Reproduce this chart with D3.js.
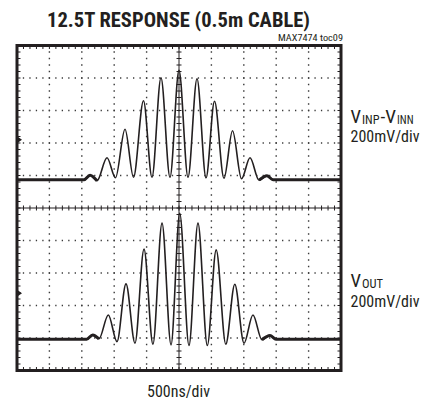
<!DOCTYPE html>
<html>
<head>
<meta charset="utf-8">
<script src="https://cdn.jsdelivr.net/npm/d3@7"></script>
<style>
  html, body { margin: 0; padding: 0; background: #fff; }
  svg { display: block; }
  text { font-family: "Liberation Sans Narrow", "Roboto Condensed", "Arial Narrow", "Liberation Sans", Arial, sans-serif; fill: #231f20; }
</style>
</head>
<body>
<svg id="chart" width="435" height="404"></svg>
<script>
// ---------------- DATA ----------------
const titleText = "12.5T RESPONSE (0.5m CABLE)";
const tocText = "MAX7474 toc09";
const timeLabel = "500ns/div";
const voltsPerDiv = 200;      // mV/div
const timePerDiv = 500;       // ns/div
const xDivisions = 10;
const yDivisions = 10;

// channel ground-reference positions (divisions above screen centre)
const ch1Offset = 2.1;
const ch2Offset = -2.62;

// Channel 1: VINP - VINN (time ns, mV relative to channel reference)
const ch1Time = [0, 1034, 1127, 1235, 1389, 1520, 1667, 1798, 1952, 2083, 2222, 2361, 2500, 2639, 2778, 2917, 3048, 3194, 3326, 3465, 3596, 3735, 3858, 3951, 5000];
const ch1Volt = [-246, -246, -218, -252, -111, -234, 65, -231, 240, -231, 382, -231, 428, -231, 375, -234, 237, -237, 55, -240, -111, -249, -222, -246, -246];

// Channel 2: VOUT
const ch2Time = [0, 1075, 1168, 1265, 1409, 1543, 1682, 1821, 1960, 2098, 2238, 2377, 2511, 2654, 2793, 2937, 3074, 3222, 3361, 3503, 3641, 3780, 3904, 3997, 5000];
const ch2Volt = [-284, -284, -257, -281, -134, -298, 57, -308, 271, -314, 431, -318, 492, -322, 431, -322, 266, -314, 55, -308, -134, -287, -261, -284, -284];

// ---------------- DRAW ----------------
const svg = d3.select("#chart");
const ink = "#231f20";

const x = d3.scaleLinear().domain([0, xDivisions * timePerDiv]).range([17, 341]);
const yDiv = d3.scaleLinear().domain([-yDivisions / 2, yDivisions / 2]).range([370.5, 45.5]);

const xMajor = d3.range(0, xDivisions * timePerDiv + 1, timePerDiv);
const xMinor = d3.range(0, xDivisions * timePerDiv + 1, timePerDiv / 5);
const yMajor = d3.range(-yDivisions / 2, yDivisions / 2 + 0.001, 1);
const yMinor = d3.range(-yDivisions / 2, yDivisions / 2 + 0.001, 0.2);

const g = svg.append("g");
const [X0, X1] = x.range();
const [Y1, Y0] = yDiv.range();
const xc = x(xDivisions * timePerDiv / 2);
const yc = yDiv(0);

// dotted grid
const dotPitch = (X1 - X0) / (xDivisions * 5);
g.selectAll("line.vgrid").data(xMajor.filter((d, i) => i > 0 && i < xDivisions && i !== xDivisions / 2))
  .enter().append("line")
  .attr("x1", d => x(d)).attr("x2", d => x(d)).attr("y1", Y0).attr("y2", Y1)
  .attr("stroke", "#3a3a3a").attr("stroke-width", 1.4)
  .attr("stroke-dasharray", `1.3 ${(Y1 - Y0) / (yDivisions * 5) - 1.3}`)
  .attr("stroke-dashoffset", 0.65);
g.selectAll("line.hgrid").data(yMajor.filter((d, i) => i > 0 && i < yDivisions && i !== yDivisions / 2))
  .enter().append("line")
  .attr("x1", X0).attr("x2", X1).attr("y1", d => yDiv(d)).attr("y2", d => yDiv(d))
  .attr("stroke", "#3a3a3a").attr("stroke-width", 1.4)
  .attr("stroke-dasharray", `1.3 ${dotPitch - 1.3}`)
  .attr("stroke-dashoffset", 0.65);

// centre crosshair
g.append("line").attr("x1", xc).attr("x2", xc).attr("y1", Y0).attr("y2", Y1).attr("stroke", ink).attr("stroke-width", 1);
g.append("line").attr("x1", X0).attr("x2", X1).attr("y1", yc).attr("y2", yc).attr("stroke", ink).attr("stroke-width", 1);
g.selectAll("line.cxt").data(xMinor).enter().append("line")
  .attr("x1", d => x(d)).attr("x2", d => x(d)).attr("y1", yc - 2.5).attr("y2", yc + 2.5)
  .attr("stroke", ink).attr("stroke-width", 1);
g.selectAll("line.cyt").data(yMinor).enter().append("line")
  .attr("x1", xc - 2.5).attr("x2", xc + 2.5).attr("y1", d => yDiv(d)).attr("y2", d => yDiv(d))
  .attr("stroke", ink).attr("stroke-width", 1);

// border ticks
const tl = 3.5;
g.selectAll("line.tt").data(xMinor).enter().append("line")
  .attr("x1", d => x(d)).attr("x2", d => x(d)).attr("y1", Y0).attr("y2", Y0 + tl).attr("stroke", ink).attr("stroke-width", 1);
g.selectAll("line.bt").data(xMinor).enter().append("line")
  .attr("x1", d => x(d)).attr("x2", d => x(d)).attr("y1", Y1).attr("y2", Y1 - tl).attr("stroke", ink).attr("stroke-width", 1);
g.selectAll("line.lt").data(yMinor).enter().append("line")
  .attr("x1", X0).attr("x2", X0 + tl).attr("y1", d => yDiv(d)).attr("y2", d => yDiv(d)).attr("stroke", ink).attr("stroke-width", 1);
g.selectAll("line.rt").data(yMinor).enter().append("line")
  .attr("x1", X1).attr("x2", X1 - tl).attr("y1", d => yDiv(d)).attr("y2", d => yDiv(d)).attr("stroke", ink).attr("stroke-width", 1);

// border
g.append("rect").attr("x", X0).attr("y", Y0).attr("width", X1 - X0).attr("height", Y1 - Y0)
  .attr("fill", "none").attr("stroke", ink).attr("stroke-width", 3);

// channel reference markers
[ch1Offset, ch2Offset].forEach(off => {
  const yy = yDiv(off);
  g.append("path").attr("d", `M${X0},${yy - 3.5} L${X0 + 5},${yy} L${X0},${yy + 3.5} Z`).attr("fill", ink);
});

// traces
function trace(times, volts, off) {
  const pts = times.map((t, i) => [t, volts[i]]);
  const line = d3.line()
    .x(d => x(d[0]))
    .y(d => yDiv(off + d[1] / voltsPerDiv))
    .curve(d3.curveMonotoneX);
  g.append("path").attr("d", line(pts)).attr("fill", "none")
    .attr("stroke", ink).attr("stroke-width", 1.6).attr("stroke-linejoin", "round");
  const first = pts.slice(0, 4);
  const last = pts.slice(pts.length - 4);
  [first, last].forEach(seg => {
    g.append("path").attr("d", line(seg)).attr("fill", "none")
      .attr("stroke", ink).attr("stroke-width", 3).attr("stroke-linejoin", "round");
  });
}
trace(ch1Time, ch1Volt, ch1Offset);
trace(ch2Time, ch2Volt, ch2Offset);

// texts
function txt(xp, yp, size, len, s, anchor) {
  return svg.append("text").attr("x", xp).attr("y", yp).attr("font-size", size)
    .attr("text-anchor", anchor || "start")
    .attr("textLength", len).attr("lengthAdjust", "spacingAndGlyphs").text(s);
}
txt(178.5, 26.7, 21, 263, titleText, "middle").attr("font-weight", "bold");
txt(343, 40.7, 9, 65, tocText, "end");
txt(178.5, 396.7, 16.5, 63, timeLabel, "middle");

// channel 1 label: V(INP) - V(INN)
txt(350.5, 123.3, 18, 10.5, "V");
txt(362, 123.8, 13, 17.5, "INP");
txt(380.5, 123.3, 18, 15.5, "-V");
txt(397, 123.8, 13, 16.5, "INN");
txt(350.5, 142.2, 17, 69, voltsPerDiv + "mV/div");

// channel 2 label: V(OUT)
txt(350.5, 287.3, 18, 10.5, "V");
txt(362, 288.3, 13, 21, "OUT");
txt(350.5, 306.9, 17, 69, voltsPerDiv + "mV/div");
</script>
</body>
</html>
